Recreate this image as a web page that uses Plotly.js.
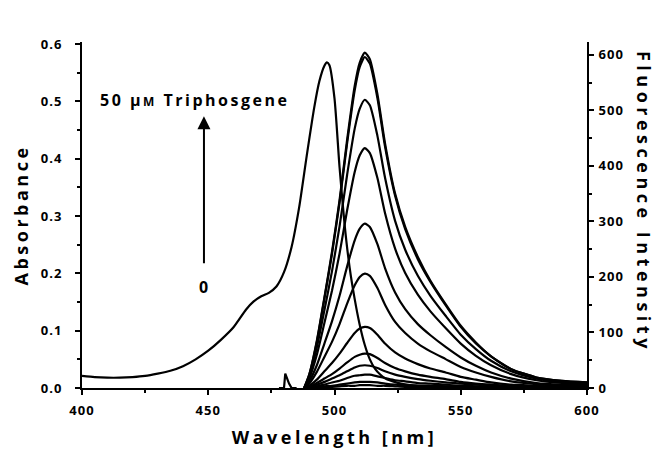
<!DOCTYPE html>
<html>
<head>
<meta charset="utf-8">
<script src="https://cdn.plot.ly/plotly-3.0.1.min.js"></script>
<style>
  html, body { margin: 0; padding: 0; background: #fff; }
  #chart { width: 659px; height: 455px; }
  .xtitle { letter-spacing: 3.5px; }
  .ytitle { letter-spacing: 3.5px; }
  .xtick text, .ytick text, .y2tick text { letter-spacing: 1px; }
</style>
</head>
<body>
<div id="chart"></div>
<script>
// Absorbance spectrum (left axis)
const absWavelength = [400, 405, 410, 415, 420, 425, 430, 435, 440, 445, 450, 455, 460, 465, 468, 471, 474, 477, 480, 483, 486, 489, 492, 494, 496, 497, 498, 500, 502, 504, 506, 508, 510, 512, 514, 516, 518, 520, 525, 530, 540, 560, 580, 600];
const absorbance = [0.021, 0.019, 0.018, 0.018, 0.019, 0.021, 0.025, 0.030, 0.038, 0.050, 0.065, 0.084, 0.106, 0.137, 0.151, 0.160, 0.166, 0.177, 0.202, 0.246, 0.315, 0.405, 0.490, 0.535, 0.562, 0.568, 0.563, 0.505, 0.385, 0.285, 0.210, 0.155, 0.110, 0.075, 0.050, 0.034, 0.024, 0.017, 0.009, 0.005, 0.003, 0.002, 0.001, 0.001];

// Fluorescence emission spectra (right axis), increasing triphosgene 0 -> 50 uM
const flWavelength = [488, 490, 493, 496, 499, 502, 505, 508, 510, 512, 514, 517, 520, 524, 528, 533, 538, 544, 550, 556, 562, 570, 580, 590, 600];
const fl01 = [0, 0, 1, 1, 2, 3, 4, 4, 5, 5, 5, 4, 4, 3, 2, 2, 2, 1, 1, 1, 0, 0, 0, 0, 0];
const fl02 = [0, 0, 2, 3, 4, 6, 8, 10, 11, 11, 11, 10, 8, 6, 5, 4, 4, 3, 2, 1, 1, 1, 0, 0, 0];
const fl03 = [0, 1, 3, 6, 10, 13, 18, 22, 23, 24, 24, 21, 18, 14, 12, 9, 8, 6, 4, 3, 2, 1, 1, 0, 0];
const fl04 = [0, 2, 6, 11, 17, 23, 30, 37, 40, 41, 40, 36, 30, 24, 20, 16, 13, 10, 8, 6, 4, 2, 1, 1, 1];
const fl05 = [0, 2, 9, 17, 25, 35, 46, 56, 60, 62, 61, 54, 45, 36, 30, 24, 20, 16, 11, 8, 6, 4, 2, 1, 1];
const fl06 = [0, 4, 15, 30, 45, 62, 81, 99, 107, 110, 108, 96, 80, 64, 53, 43, 35, 28, 20, 15, 10, 6, 4, 2, 2];
const fl07 = [0, 8, 29, 56, 83, 115, 152, 185, 200, 206, 202, 180, 150, 119, 99, 80, 66, 52, 38, 28, 20, 12, 7, 4, 3];
const fl08 = [0, 12, 41, 80, 120, 166, 219, 266, 287, 296, 290, 259, 216, 172, 142, 115, 95, 74, 55, 40, 28, 17, 9, 6, 5];
const fl09 = [0, 17, 60, 117, 175, 242, 320, 389, 419, 432, 423, 378, 315, 251, 207, 168, 138, 108, 80, 58, 41, 25, 14, 9, 7];
const fl10 = [0, 21, 73, 140, 210, 291, 384, 467, 503, 519, 509, 454, 379, 301, 249, 202, 166, 130, 96, 70, 49, 30, 17, 11, 8];
const fl11 = [0, 24, 83, 161, 241, 334, 441, 536, 578, 596, 584, 522, 435, 346, 286, 232, 191, 149, 110, 80, 57, 34, 19, 13, 10];
const fl12 = [0, 24, 85, 163, 245, 338, 447, 544, 586, 604, 592, 529, 441, 350, 290, 236, 193, 151, 112, 82, 57, 34, 19, 13, 10];
const flSeries = [fl01, fl02, fl03, fl04, fl05, fl06, fl07, fl08, fl09, fl10, fl11, fl12];

// Excitation scatter spike near 480 nm (right axis)
const spikeWavelength = [478, 480, 480.5, 481.2, 482, 483, 485];
const spikeIntensity = [0, 0, 26, 17, 8, 0, 0];

// Tick labels
const xTicks = [400, 450, 500, 550, 600];
const yTicks = [0.0, 0.1, 0.2, 0.3, 0.4, 0.5, 0.6];
const y2Ticks = [0, 100, 200, 300, 400, 500, 600];

const FONT = '"Open Sans", "DejaVu Sans", sans-serif';
const lineStyle = {color: '#000', width: 2.2, shape: 'spline', smoothing: 0.6};

const traces = [];
traces.push({x: absWavelength, y: absorbance, mode: 'lines', line: lineStyle, yaxis: 'y', hoverinfo: 'skip'});
flSeries.forEach(s => traces.push({x: flWavelength, y: s, mode: 'lines', line: lineStyle, yaxis: 'y2', hoverinfo: 'skip'}));
traces.push({x: spikeWavelength, y: spikeIntensity, mode: 'lines', line: {color: '#000', width: 2.2}, yaxis: 'y2', hoverinfo: 'skip'});

const tickFont = {family: FONT, size: 13, color: '#000', weight: 'bold'};
const titleFont = {family: FONT, size: 18, color: '#000', weight: 'bold'};

const layout = {
  width: 659, height: 455,
  margin: {l: 82, r: 72, t: 42, b: 67},
  paper_bgcolor: '#fff', plot_bgcolor: '#fff',
  showlegend: false,
  font: {family: FONT, color: '#000'},
  xaxis: {
    range: [400, 600], tickvals: xTicks, ticktext: xTicks.map(String),
    showline: true, linecolor: '#000', linewidth: 2,
    ticks: 'outside', ticklen: 5, tickwidth: 2, tickcolor: '#000',
    minor: {dtick: 25, ticks: 'outside', ticklen: 3, tickwidth: 2, tickcolor: '#000'},
    showgrid: false, zeroline: false, tickfont: tickFont, ticklabelstandoff: 4,
    title: {text: 'Wavelength [nm]', font: titleFont, standoff: 14}
  },
  yaxis: {
    range: [0, 0.6035], tickvals: yTicks, ticktext: yTicks.map(v => v.toFixed(1)),
    showline: true, linecolor: '#000', linewidth: 2,
    ticks: 'outside', ticklen: 5, tickwidth: 2, tickcolor: '#000',
    minor: {dtick: 0.05, ticks: 'outside', ticklen: 3, tickwidth: 2, tickcolor: '#000'},
    showgrid: false, zeroline: false, tickfont: tickFont, ticklabelstandoff: 10,
    title: {text: 'Absorbance', font: titleFont, standoff: 8}
  },
  yaxis2: {
    overlaying: 'y', side: 'right',
    range: [0, 623], tickvals: y2Ticks, ticktext: y2Ticks.map(String),
    showline: true, linecolor: '#000', linewidth: 2,
    ticks: 'outside', ticklen: 5, tickwidth: 2, tickcolor: '#000',
    minor: {dtick: 50, ticks: 'outside', ticklen: 3, tickwidth: 2, tickcolor: '#000'},
    showgrid: false, zeroline: false, tickfont: tickFont, ticklabelstandoff: 2
  },
  annotations: [
    {x: 1.113, y: 0.5376, xref: 'paper', yref: 'paper', xanchor: 'center', yanchor: 'middle',
     showarrow: false, textangle: 90,
     text: '<span style="letter-spacing:4.5px">Fluorescence Intensity</span>',
     font: titleFont},
    {x: 444.5, y: 0.503, xref: 'x', yref: 'y', showarrow: false,
     text: '<span style="letter-spacing:2.5px">50 μ<span style="font-size:12px">M</span> Triphosgene</span>',
     font: {family: FONT, size: 16, color: '#000', weight: 'bold'}},
    {x: 448.3, y: 0.474, xref: 'x', yref: 'y', ax: 448.3, ay: 0.215, axref: 'x', ayref: 'y',
     showarrow: true, text: '', arrowhead: 2, arrowsize: 1.3, arrowwidth: 2, arrowcolor: '#000'},
    {x: 448.3, y: 0.176, xref: 'x', yref: 'y', showarrow: false, text: '0',
     font: {family: FONT, size: 16, color: '#000', weight: 'bold'}}
  ]
};

Plotly.newPlot('chart', traces, layout, {staticPlot: true, displayModeBar: false});
</script>
</body>
</html>
